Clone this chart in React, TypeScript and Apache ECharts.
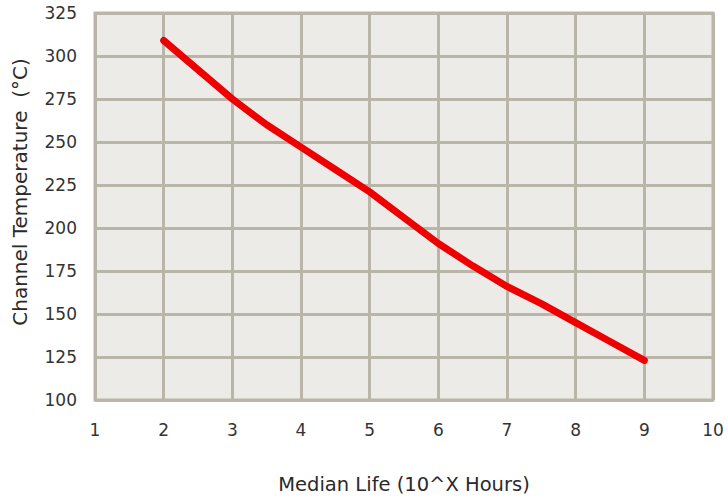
import React, { useEffect, useRef } from "react";
import * as echarts from "echarts";

const lifeExponent = [2, 2.5, 3, 3.5, 4, 4.5, 5, 5.5, 6, 6.5, 7, 7.5, 8, 8.5, 9];
const channelTemp = [309, 292, 275, 260, 247, 234, 221, 206, 191, 178, 166, 156, 145, 134, 123];
const xAxisTitle = "Median Life (10^X Hours)";
const yAxisTitle = "Channel Temperature  (°C)";

export default function App() {
  const ref = useRef<HTMLDivElement>(null);
  useEffect(() => {
    if (!ref.current) return;
    const chart = echarts.init(ref.current, undefined, { renderer: "svg" });
    const gridColor = "#B9B6A9";
    const font = "'DejaVu Sans', Verdana, sans-serif";
    chart.setOption({
      animation: false,
      backgroundColor: "#ffffff",
      grid: {
        left: 95,
        right: 15,
        top: 13,
        bottom: 88,
        show: true,
        backgroundColor: "#ECEBE7",
        borderColor: gridColor,
        borderWidth: 3,
      },
      xAxis: {
        type: "value",
        min: 1,
        max: 10,
        interval: 1,
        name: xAxisTitle,
        nameLocation: "middle",
        nameGap: 74,
        nameTextStyle: { fontFamily: font, fontSize: 19.5, color: "#2a2a2a" },
        axisLine: { show: false },
        axisTick: { show: false },
        axisLabel: { fontFamily: font, fontSize: 17, color: "#333", margin: 21 },
        splitLine: { show: true, lineStyle: { color: gridColor, width: 3 } },
      },
      yAxis: {
        type: "value",
        min: 100,
        max: 325,
        interval: 25,
        axisLine: { show: false },
        axisTick: { show: false },
        axisLabel: { fontFamily: font, fontSize: 17, color: "#333", margin: 18 },
        splitLine: { show: true, lineStyle: { color: gridColor, width: 3 } },
      },
      graphic: [
        {
          type: "text",
          x: 20,
          y: 192,
          rotation: Math.PI / 2,
          style: {
            text: yAxisTitle,
            fontFamily: font,
            fontSize: 20,
            fill: "#2a2a2a",
            align: "center",
            verticalAlign: "middle",
          },
        },
      ],
      series: [
        {
          type: "line",
          data: lifeExponent.map((x, i) => [x, channelTemp[i]]),
          symbol: "none",
          lineStyle: { color: "#EE0000", width: 7, cap: "round", join: "round" },
        },
      ],
    });
    return () => chart.dispose();
  }, []);
  return (
    <div
      ref={ref}
      style={{ position: "absolute", left: 0, top: 0, width: 728, height: 499 }}
    />
  );
}
